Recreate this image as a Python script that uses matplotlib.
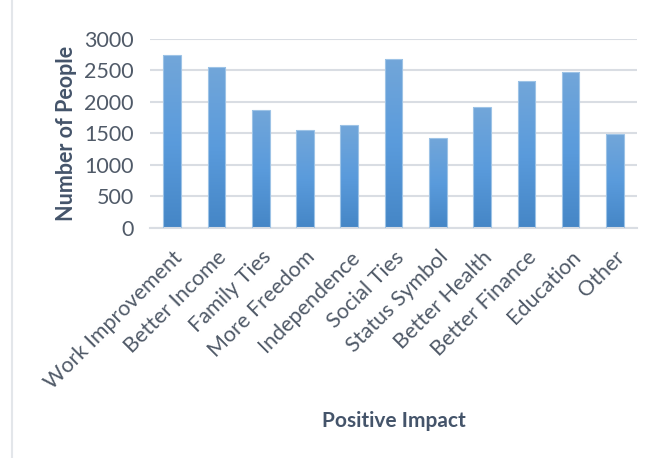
import numpy as np
import matplotlib.pyplot as plt
from matplotlib.colors import LinearSegmentedColormap

# survey counts per positive impact
categories = ["Work Improvement", "Better Income", "Family Ties", "More Freedom",
              "Independence", "Social Ties", "Status Symbol", "Better Health",
              "Better Finance", "Education", "Other"]
counts = [2740, 2560, 1870, 1550, 1630, 2680, 1430, 1910, 2330, 2480, 1490]
yticks = [0, 500, 1000, 1500, 2000, 2500, 3000]

plt.rcParams['font.family'] = ['Lato', 'DejaVu Sans']

fig = plt.figure(figsize=(6.56, 4.58), dpi=100)
ax = fig.add_axes([0.229, 0.503, 0.742, 0.412])

x = np.arange(len(categories))
bars = ax.bar(x, counts, width=0.4, color='none', edgecolor='#9dc3e6',
              linewidth=0.8, zorder=3)

# vertical gradient fill, lighter at the top
cmap = LinearSegmentedColormap.from_list('bargrad', ['#4586c6', '#5a9bdc', '#72a6d9'])
grad = np.linspace(0, 1, 256).reshape(-1, 1)
for b in bars:
    x0, w, h = b.get_x(), b.get_width(), b.get_height()
    im = ax.imshow(grad, cmap=cmap, origin='lower', aspect='auto',
                   extent=[x0, x0 + w, 0, h], zorder=2)
    im.set_clip_path(b)

ax.set_xlim(-0.5, len(categories) - 0.5)
ax.set_ylim(0, 3000)
ax.set_yticks(yticks)
ax.set_yticklabels([str(v) for v in yticks])
ax.yaxis.grid(True, color='#d9dde3', linewidth=1.5, zorder=0)
ax.set_axisbelow(True)
for s in ['top', 'right', 'left']:
    ax.spines[s].set_visible(False)
ax.spines['bottom'].set_color('#d9dde3')
ax.spines['bottom'].set_linewidth(1.5)
ax.tick_params(axis='both', length=0, labelsize=15.5, colors='#505a68')
ax.tick_params(axis='y', pad=12)

ax.set_xticks(x)
ax.set_xticklabels(categories, rotation=45, ha='right', rotation_mode='anchor')
ax.tick_params(axis='x', pad=14)

ax.set_ylabel("Number of People", fontsize=15.5, fontweight='bold', color='#44546a',
              labelpad=5)
ax.set_xlabel("Positive Impact", fontsize=15, fontweight='bold', color='#44546a',
              labelpad=13)

# frame edge on the left
fig.add_artist(plt.Line2D([12 / 656, 12 / 656], [0, 1], color='#e3e6ea', linewidth=1.5))

fig.savefig('out.png', dpi=100)
